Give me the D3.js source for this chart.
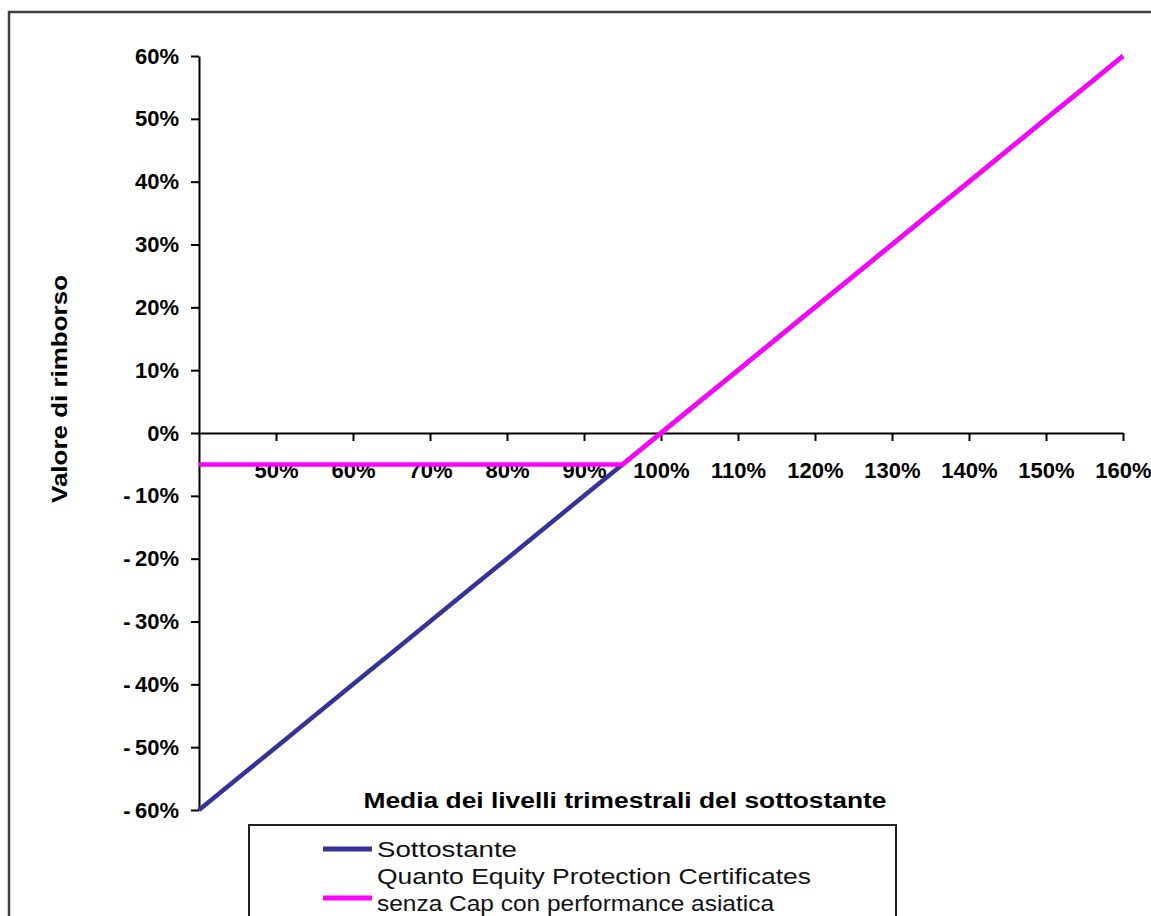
<!DOCTYPE html>
<html>
<head>
<meta charset="utf-8">
<script src="https://cdn.jsdelivr.net/npm/d3@7"></script>
<style>
  body { margin: 0; background: #fff; }
  .axis text { font-family: 'Liberation Sans', Arial, sans-serif; font-weight: bold; font-size: 22px; fill: #000; }
  .axis path, .axis line { stroke: #000; stroke-width: 2px; }
</style>
</head>
<body>
<div class="chart-panel"></div>
<script>
// underlying average level (% of initial) and payoff of each series (%)
const levels = [40, 45, 50, 55, 60, 65, 70, 75, 80, 85, 90, 95, 100, 105, 110, 115, 120, 125, 130, 135, 140, 145, 150, 155, 160]
const sottostante = [-60, -55, -50, -45, -40, -35, -30, -25, -20, -15, -10, -5, 0, 5, 10, 15, 20, 25, 30, 35, 40, 45, 50, 55, 60]
const certificate = [-5, -5, -5, -5, -5, -5, -5, -5, -5, -5, -5, -5, 0, 5, 10, 15, 20, 25, 30, 35, 40, 45, 50, 55, 60]
const xTicks = [50, 60, 70, 80, 90, 100, 110, 120, 130, 140, 150, 160]
const yTicks = [-60, -50, -40, -30, -20, -10, 0, 10, 20, 30, 40, 50, 60]
const seriesNames = ['Sottostante', 'Quanto Equity Protection Certificates|senza Cap con performance asiatica']
const seriesColors = ['#333399', '#ff00ff']

const W = 1151
const H = 916

const svg = d3.select('.chart-panel').append('svg')
  .attr('width', W)
  .attr('height', H)

// outer chart area border (runs off the picture right and bottom)
svg.append('rect')
  .attr('x', 9).attr('y', 12)
  .attr('width', W + 20).attr('height', H + 20)
  .attr('fill', '#fff')
  .attr('stroke', '#404040')
  .attr('stroke-width', 2.5)

const x = d3.scaleLinear()
  .domain([40, 160])
  .range([199, 1123])

const y = d3.scaleLinear()
  .domain([-60, 60])
  .range([810, 56])

const fmt = function (d) { return d < 0 ? '-\u2009' + Math.abs(d) + '%' : d + '%' }

// y axis
svg.append('g')
  .attr('class', 'axis axis--y')
  .attr('transform', 'translate(' + x(40) + ',0)')
  .call(d3.axisLeft(y).tickValues(yTicks).tickFormat(fmt).tickSize(8).tickSizeOuter(0).tickPadding(12))

// x axis crosses at 0%
svg.append('g')
  .attr('class', 'axis axis--x')
  .attr('transform', 'translate(0,' + y(0) + ')')
  .call(d3.axisBottom(x).tickValues(xTicks).tickFormat(fmt).tickSize(8).tickSizeOuter(0).tickPadding(21))

const line = d3.line()
  .x(function (d) { return x(d[0]) })
  .y(function (d) { return y(d[1]) })

const seriesData = [sottostante, certificate]
seriesData.forEach(function (vals, i) {
  svg.append('path')
    .attr('d', line(levels.map(function (l, j) { return [l, vals[j]] })))
    .attr('fill', 'none')
    .attr('stroke', seriesColors[i])
    .attr('stroke-width', 4.5)
    .attr('stroke-linejoin', 'round')
})

// axis titles
svg.append('text')
  .attr('transform', 'translate(67,389) rotate(-90)')
  .attr('text-anchor', 'middle')
  .attr('textLength', 228)
  .attr('lengthAdjust', 'spacingAndGlyphs')
  .style('font-family', "'Liberation Sans', Arial, sans-serif")
  .style('font-weight', 'bold')
  .style('font-size', '22px')
  .text('Valore di rimborso')

svg.append('text')
  .attr('x', 625)
  .attr('y', 808)
  .attr('text-anchor', 'middle')
  .attr('textLength', 523)
  .attr('lengthAdjust', 'spacingAndGlyphs')
  .style('font-family', "'Liberation Sans', Arial, sans-serif")
  .style('font-weight', 'bold')
  .style('font-size', '22px')
  .text('Media dei livelli trimestrali del sottostante')

// legend
const legend = svg.append('g').attr('class', 'legend')
legend.append('rect')
  .attr('x', 249).attr('y', 825)
  .attr('width', 647).attr('height', 120)
  .attr('fill', '#fff')
  .attr('stroke', '#222')
  .attr('stroke-width', 2)

const legendRows = [
  { lineY: 849, lines: [{ y: 857, t: seriesNames[0].split('|')[0], len: 140 }] },
  { lineY: 898, lines: [{ y: 884, t: seriesNames[1].split('|')[0], len: 434 }, { y: 911, t: seriesNames[1].split('|')[1], len: 397 }] },
]
legendRows.forEach(function (r, i) {
  legend.append('line')
    .attr('x1', 323).attr('x2', 372)
    .attr('y1', r.lineY).attr('y2', r.lineY)
    .attr('stroke', seriesColors[i])
    .attr('stroke-width', 5)
  r.lines.forEach(function (l) {
    legend.append('text')
      .attr('x', 377)
      .attr('y', l.y)
      .attr('textLength', l.len)
      .attr('lengthAdjust', 'spacingAndGlyphs')
      .style('font-family', "'Liberation Sans', Arial, sans-serif")
      .style('font-size', '22px')
      .style('fill', '#111')
      .text(l.t)
  })
})
</script>
</body>
</html>
